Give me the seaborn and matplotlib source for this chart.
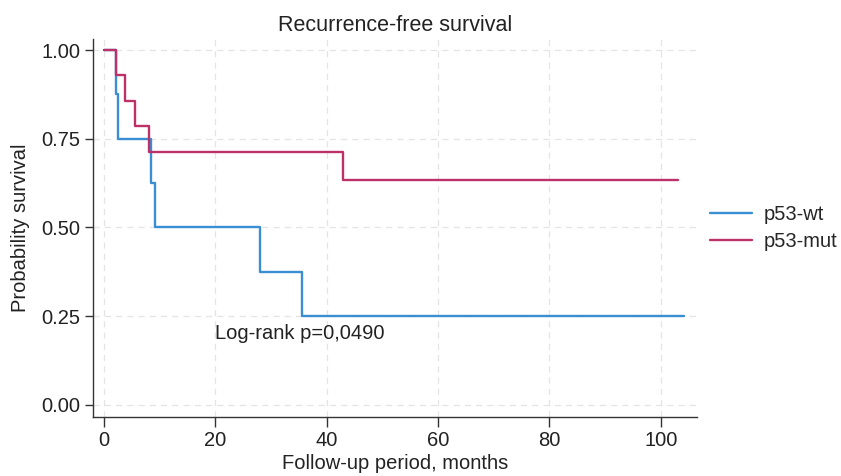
import matplotlib
matplotlib.use("Agg")
import matplotlib.pyplot as plt
import seaborn as sns
import pandas as pd

# Kaplan-Meier step data
wt_time = [0, 2.1, 2.5, 8.4, 9.2, 28.0, 35.6, 104.2]
wt_surv = [1.0, 0.875, 0.75, 0.625, 0.5, 0.375, 0.25, 0.25]
mut_time = [0, 2.1, 3.8, 5.6, 8.0, 42.9, 103.0]
mut_surv = [1.0, 0.929, 0.857, 0.786, 0.714, 0.635, 0.635]
groups = ["p53-wt", "p53-mut"]
x_ticks = [0, 20, 40, 60, 80, 100]
y_ticks = [0.0, 0.25, 0.5, 0.75, 1.0]
y_ticklabels = ["0.00", "0.25", "0.50", "0.75", "1.00"]
annotation = "Log-rank p=0,0490"

df = pd.concat([
    pd.DataFrame({"time": wt_time, "surv": wt_surv, "group": groups[0]}),
    pd.DataFrame({"time": mut_time, "surv": mut_surv, "group": groups[1]}),
], ignore_index=True)

sns.set_theme(style="ticks")
plt.rcParams["font.family"] = ["Liberation Sans", "DejaVu Sans"]

FS = 14.5
fig = plt.figure(figsize=(8.41, 4.76), dpi=100)
ax = fig.add_axes([93/841, 1-417/476, (697-93)/841, (417-39)/476])

palette = {"p53-wt": "#3a8ed2", "p53-mut": "#bd3169"}
sns.lineplot(data=df, x="time", y="surv", hue="group", hue_order=groups,
             palette=palette, drawstyle="steps-post", linewidth=1.7,
             estimator=None, sort=False, ax=ax, zorder=3)

ax.set_xlim(-2, 106.5)
ax.set_ylim(-0.034, 1.031)
ax.set_xticks(x_ticks)
ax.set_yticks(y_ticks)
ax.set_yticklabels(y_ticklabels)
ax.grid(True, color="#e4e4e4", linestyle=(0, (5, 4)), linewidth=0.9, zorder=0)
for s in ["top", "right"]:
    ax.spines[s].set_visible(False)
for s in ["left", "bottom"]:
    ax.spines[s].set_color("#333333")
    ax.spines[s].set_linewidth(1.0)
ax.tick_params(axis="both", labelsize=FS, length=6, width=1.0, color="#333333",
               labelcolor="#222222", pad=3)
ax.tick_params(axis="x", length=7)

ax.set_xlabel("Follow-up period, months", fontsize=FS, color="#222222", labelpad=3)
ax.set_ylabel("Probability survival", fontsize=FS, color="#222222", labelpad=8)
ax.set_title("Recurrence-free survival", fontsize=15.5, color="#222222", pad=6)

ax.text(20, 0.2, annotation, fontsize=FS, color="#222222", ha="left", va="center")

handles, labels = ax.get_legend_handles_labels()
ax.legend(handles, labels, loc="center left", bbox_to_anchor=(710/841, 1-228/476),
          bbox_transform=fig.transFigure, frameon=False, fontsize=FS,
          handlelength=2.1, handletextpad=0.55, labelspacing=0.4,
          borderaxespad=0, borderpad=0)

fig.savefig("out.png", dpi=100)
